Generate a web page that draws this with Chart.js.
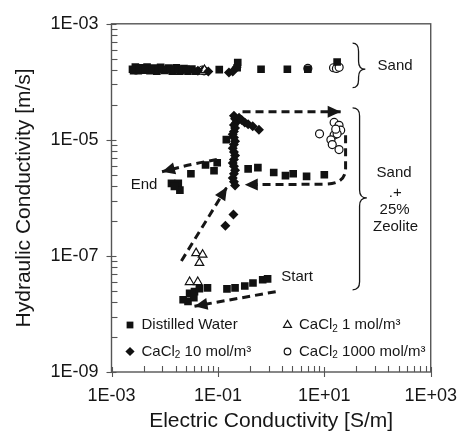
<!DOCTYPE html>
<html><head><meta charset="utf-8">
<script src="https://cdn.jsdelivr.net/npm/chart.js@4"></script>
<style>html,body{margin:0;padding:0;background:#fff}#c{display:block}</style>
</head><body><canvas id="c" width="470" height="443"></canvas>
<script>
// ---------------- DATA ----------------
const xTickValues = [1e-3, 1e-1, 1e1, 1e3];
const xTickLabels = ['1E-03', '1E-01', '1E+01', '1E+03'];
const yTickValues = [1e-9, 1e-7, 1e-5, 1e-3];
const yTickLabels = ['1E-09', '1E-07', '1E-05', '1E-03'];

const seriesNames = ['Distilled Water', 'CaCl2 10 mol/m³', 'CaCl2 1 mol/m³', 'CaCl2 1000 mol/m³'];

// Distilled water [EC S/m, K m/s]
const distilledWater = [
  [2.48e-3,1.65e-4],[2.81e-3,1.8e-4],[3.19e-3,1.55e-4],[3.62e-3,1.75e-4],[4.11e-3,1.58e-4],
  [4.66e-3,1.8e-4],[5.29e-3,1.55e-4],[6.26e-3,1.72e-4],[7.11e-3,1.52e-4],[8.38e-3,1.78e-4],
  [9.95e-3,1.57e-4],[1.18e-2,1.72e-4],[1.39e-2,1.53e-4],[1.65e-2,1.74e-4],[1.95e-2,1.55e-4],
  [2.31e-2,1.7e-4],[2.74e-2,1.52e-4],[3.24e-2,1.66e-4],[3.84e-2,1.52e-4],
  [2.6e-3,1.55e-4],[3.4e-3,1.68e-4],[4.4e-3,1.66e-4],[5.8e-3,1.64e-4],[7.6e-3,1.66e-4],
  [9.0e-3,1.63e-4],[1.08e-2,1.62e-4],[1.28e-2,1.66e-4],[1.52e-2,1.62e-4],[1.8e-2,1.64e-4],
  [2.1e-2,1.62e-4],[2.5e-2,1.64e-4],[0.106,1.62e-4],
  [0.236,2.15e-4],[0.23,1.75e-4],[0.647,1.65e-4],[2.02,1.65e-4],[4.9,1.65e-4],[17.4,2.2e-4],
  // sand + zeolite
  [0.144,1.01e-5],[0.097,4.03e-6],[0.0585,3.69e-6],[0.0845,2.93e-6],[0.0311,2.61e-6],
  [0.0134,1.78e-6],[0.018,1.78e-6],[0.0193,1.36e-6],[0.0152,1.58e-6],
  [0.37,3.16e-6],[0.564,3.33e-6],[1.12,2.74e-6],[1.86,2.42e-6],[2.6,2.61e-6],[4.64,2.35e-6],[10.0,2.51e-6],
  [0.0222,1.76e-8],[0.0294,2.26e-8],[0.0363,2.42e-8],[0.0449,2.74e-8],[0.0637,2.82e-8],
  [0.148,2.71e-8],[0.21,2.82e-8],[0.32,3.04e-8],[0.456,3.41e-8],[0.695,3.88e-8],[0.859,4.03e-8],
  [0.0274,1.65e-8],[0.0353,1.9e-8]
];
const cacl2_10 = [
  [0.042,1.55e-4],[0.066,1.5e-4],[0.161,1.45e-4],[0.19,1.5e-4],[0.225,1.78e-4],
  [0.2,2.6e-5],[0.21,2.3e-5],[0.22,2.0e-5],[0.2,1.8e-5],[0.21,1.6e-5],[0.2,1.4e-5],[0.19,1.25e-5],
  [0.2,1.1e-5],[0.21,9.5e-6],[0.2,8.3e-6],[0.19,7.2e-6],[0.2,6.2e-6],[0.21,5.4e-6],[0.2,4.6e-6],
  [0.19,4.0e-6],[0.2,3.5e-6],[0.21,3.0e-6],[0.2,2.6e-6],[0.19,2.2e-6],[0.2,1.9e-6],[0.21,1.64e-6],
  [0.25,2.4e-5],[0.28,2.2e-5],[0.32,2.0e-5],[0.37,1.85e-5],[0.45,1.72e-5],[0.59,1.5e-5],
  [0.196,5.2e-7],[0.138,3.32e-7]
];
const cacl2_1 = [
  [0.018,1.48e-4],[0.0515,1.5e-4],[0.056,1.6e-4],
  [0.0389,1.12e-7],[0.0516,1.05e-7],[0.0449,7.6e-8],[0.0294,3.55e-8],[0.0418,3.55e-8]
];
const cacl2_1000 = [
  [0.0515,1.6e-4],[0.055,1.55e-4],[4.9,1.7e-4],[14.9,1.75e-4],[16.9,1.7e-4],[19.0,1.78e-4],
  [8.13,1.27e-5],[15.3,2.0e-5],[18.9,1.78e-5],[20.3,1.47e-5],[15.3,1.21e-5],[13.3,1.0e-5],
  [18.9,6.8e-6],[17.4,1.27e-5],[16.4,1.53e-5],[14.1,8.3e-6]
];

// ---------------- ANNOTATIONS (data units) ----------------
const arrowPaths = [
  {pts: [[1.22,2.42e-8],[0.0363,1.36e-8]]},                       // Start
  {pts: [[0.0206,8.2e-8],[0.148,1.54e-6]]},                        // up
  {pts: [[0.29,3.04e-5],[20.3,3.04e-5]]},                          // top right
  {pts: [[25.1,1.2e-5],[25.1,3.2e-6]], corner: [25.1,1.72e-6], pts2: [[10.0,1.72e-6],[0.32,1.69e-6]]}, // loop back
  {pts: [[0.0955,4.59e-6],[0.0311,3.83e-6],[0.0089,2.82e-6]]}      // End
];
const textNotes = [
  {t: 'End', x: 0.0041, y: 1.71e-6},
  {t: 'Start', x: 3.08, y: 4.3e-8},
  {t: 'Sand', x: 214, y: 1.85e-4},
  {t: 'Sand', x: 205, y: 2.74e-6},
  {t: '.+', x: 215, y: 1.24e-6},
  {t: '25%', x: 209, y: 6.3e-7},
  {t: 'Zeolite', x: 218, y: 3.13e-7}
];
const braces = [
  {xEnd: 34, xSpine: 44, xTip: 59, yTop: 4.64e-4, yMid: 1.65e-4, yBot: 7.94e-5},
  {xEnd: 34, xSpine: 46, xTip: 63, yTop: 3.55e-5, yMid: 1.0e-6, yBot: 2.61e-8}
];

// ---------------- CHART ----------------
const FONT = '"Liberation Sans", Arial, Helvetica, sans-serif';
const INK = '#161616';
const AXIS = '#555555';
Chart.defaults.font.family = FONT;
Chart.defaults.color = INK;

const toPts = a => a.map(p => ({x: p[0], y: p[1]}));

function line(ctx, x1, y1, x2, y2) { ctx.beginPath(); ctx.moveTo(x1, y1); ctx.lineTo(x2, y2); ctx.stroke(); }

function arrowHead(ctx, tip, from) {
  const ang = Math.atan2(tip[1] - from[1], tip[0] - from[0]);
  const L = 13, W = 6;
  ctx.save();
  ctx.setLineDash([]);
  ctx.beginPath();
  ctx.moveTo(tip[0], tip[1]);
  ctx.lineTo(tip[0] - L * Math.cos(ang) + W * Math.sin(ang), tip[1] - L * Math.sin(ang) - W * Math.cos(ang));
  ctx.lineTo(tip[0] - L * Math.cos(ang) - W * Math.sin(ang), tip[1] - L * Math.sin(ang) + W * Math.cos(ang));
  ctx.closePath();
  ctx.fill();
  ctx.restore();
}

const decor = {
  id: 'decor',
  afterDatasetsDraw(chart) {
    const ctx = chart.ctx, xs = chart.scales.x, ys = chart.scales.y, ca = chart.chartArea;
    const P = p => [xs.getPixelForValue(p[0]), ys.getPixelForValue(p[1])];
    ctx.save();
    // frame
    ctx.strokeStyle = AXIS; ctx.lineWidth = 1.4; ctx.setLineDash([]);
    ctx.strokeRect(ca.left, ca.top, ca.right - ca.left, ca.bottom - ca.top);
    // x ticks
    ctx.lineWidth = 1.1;
    xTickValues.forEach((v, i) => {
      const x = Math.round(xs.getPixelForValue(v)) + 0.5;
      line(ctx, x, ca.bottom - 5, x, ca.bottom + 5);
      if (i < xTickValues.length - 1) for (let k = 2; k <= 9; k++) {
        const xm = Math.round(xs.getPixelForValue(v * k * k)) + 0.5;
        line(ctx, xm, ca.bottom - 6, xm, ca.bottom);
      }
    });
    yTickValues.forEach((v, i) => {
      const y = Math.round(ys.getPixelForValue(v)) + 0.5;
      line(ctx, ca.left - 5, y, ca.left + 5, y);
      if (i < yTickValues.length - 1) for (let k = 2; k <= 9; k++) {
        const ym = Math.round(ys.getPixelForValue(v * k * k)) + 0.5;
        line(ctx, ca.left, ym, ca.left + 6, ym);
      }
    });
    // arrows
    ctx.strokeStyle = INK; ctx.fillStyle = INK; ctx.lineWidth = 3; ctx.setLineDash([8, 5]);
    arrowPaths.forEach(a => {
      let pts = a.pts.map(P);
      ctx.beginPath();
      ctx.moveTo(pts[0][0], pts[0][1]);
      if (a.corner) {
        const c = P(a.corner);
        const p2 = a.pts2.map(P);
        ctx.lineTo(pts[1][0], pts[1][1]);
        ctx.quadraticCurveTo(c[0], c[1], p2[0][0], p2[0][1]);
        ctx.lineTo(p2[1][0], p2[1][1]);
        ctx.stroke();
        arrowHead(ctx, p2[1], p2[0]);
      } else if (pts.length === 3) {
        ctx.quadraticCurveTo(pts[1][0], pts[1][1], pts[2][0], pts[2][1]);
        ctx.stroke();
        arrowHead(ctx, pts[2], pts[1]);
      } else {
        ctx.lineTo(pts[1][0], pts[1][1]);
        ctx.stroke();
        arrowHead(ctx, pts[1], pts[0]);
      }
    });
    ctx.setLineDash([]);
    // braces
    ctx.lineWidth = 1.3;
    braces.forEach(b => {
      const x0 = xs.getPixelForValue(b.xEnd), xsp = xs.getPixelForValue(b.xSpine), xt = xs.getPixelForValue(b.xTip);
      const yt = ys.getPixelForValue(b.yTop), ym = ys.getPixelForValue(b.yMid), yb = ys.getPixelForValue(b.yBot);
      const r = 8;
      ctx.beginPath();
      ctx.moveTo(x0, yt);
      ctx.quadraticCurveTo(xsp, yt, xsp, yt + r);
      ctx.lineTo(xsp, ym - r);
      ctx.quadraticCurveTo(xsp, ym, xt, ym);
      ctx.quadraticCurveTo(xsp, ym, xsp, ym + r);
      ctx.lineTo(xsp, yb - r);
      ctx.quadraticCurveTo(xsp, yb, x0, yb);
      ctx.stroke();
    });
    // text notes
    ctx.font = '15px ' + FONT; ctx.textAlign = 'center'; ctx.textBaseline = 'middle';
    textNotes.forEach(n => { const p = P([n.x, n.y]); ctx.fillText(n.t, p[0], p[1]); });
    // legend
    const H = Chart.helpers;
    const rows = [
      {ds: 0, col: 0, row: 0, parts: [['Distilled Water', 0]]},
      {ds: 2, col: 1, row: 0, parts: [['CaCl', 0], ['2', 1], [' 1 mol/m³', 0]]},
      {ds: 1, col: 0, row: 1, parts: [['CaCl', 0], ['2', 1], [' 10 mol/m³', 0]]},
      {ds: 3, col: 1, row: 1, parts: [['CaCl', 0], ['2', 1], [' 1000 mol/m³', 0]]}
    ];
    rows.forEach(r => {
      const ds = chart.data.datasets[r.ds];
      const mx = ca.left + 18.5 + r.col * 157.5, my = ca.bottom - 47 + r.row * 26.5;
      ctx.fillStyle = ds.backgroundColor; ctx.strokeStyle = ds.borderColor; ctx.lineWidth = ds.borderWidth || 0;
      H.drawPoint(ctx, {pointStyle: ds.pointStyle, radius: r.ds === 3 ? 3.3 : (r.ds === 0 ? 4.8 : 4.6), rotation: 0, borderWidth: ds.borderWidth || 0}, mx, my);
      let tx = mx + 11.5;
      ctx.fillStyle = INK; ctx.textAlign = 'left'; ctx.textBaseline = 'middle';
      r.parts.forEach(([s, sub]) => {
        ctx.font = (sub ? '10px ' : '15px ') + FONT;
        ctx.fillText(s, tx, my + (sub ? 4 : 0));
        tx += ctx.measureText(s).width;
      });
    });
    ctx.restore();
  }
};

new Chart(document.getElementById('c'), {
  type: 'scatter',
  data: {
    datasets: [
      {label: seriesNames[0], data: toPts(distilledWater), pointStyle: 'rect', pointRadius: 5.4, backgroundColor: '#111', borderColor: '#111', borderWidth: 0},
      {label: seriesNames[1], data: toPts(cacl2_10), pointStyle: 'rectRot', pointRadius: 5, backgroundColor: '#111', borderColor: '#111', borderWidth: 0},
      {label: seriesNames[2], data: toPts(cacl2_1), pointStyle: 'triangle', pointRadius: 5, backgroundColor: '#fff', borderColor: '#111', borderWidth: 1.2},
      {label: seriesNames[3], data: toPts(cacl2_1000), pointStyle: 'circle', pointRadius: 4, backgroundColor: '#fff', borderColor: '#111', borderWidth: 1.2}
    ]
  },
  options: {
    responsive: false, animation: false,
    layout: {padding: {left: 0, top: 13, right: 31.5, bottom: 0}},
    plugins: {legend: {display: false}, tooltip: {enabled: false}},
    scales: {
      x: {
        type: 'logarithmic', min: 1e-3, max: 1e3,
        afterBuildTicks: s => { s.ticks = xTickValues.map(v => ({value: v})); },
        afterFit: s => { s.height = 71; },
        ticks: {callback: (v, i) => xTickLabels[i], font: {size: 18}, color: INK, padding: 13, maxRotation: 0, autoSkip: false},
        grid: {display: false, drawTicks: false}, border: {display: false},
        title: {display: true, text: 'Electric Conductivity [S/m]', font: {size: 21}, color: INK, padding: {top: 0, bottom: 9}}
      },
      y: {
        type: 'logarithmic', min: 1e-9, max: 1e-3,
        afterBuildTicks: s => { s.ticks = yTickValues.map(v => ({value: v})); },
        afterFit: s => { s.width = 111.5; },
        ticks: {callback: (v, i) => yTickLabels[i], font: {size: 18}, color: INK, padding: 13, autoSkip: false},
        grid: {display: false, drawTicks: false}, border: {display: false},
        title: {display: true, text: 'Hydraulic Conductivity [m/s]', font: {size: 21}, color: INK, padding: {top: 12, bottom: 0}}
      }
    }
  },
  plugins: [decor]
});
</script></body></html>
